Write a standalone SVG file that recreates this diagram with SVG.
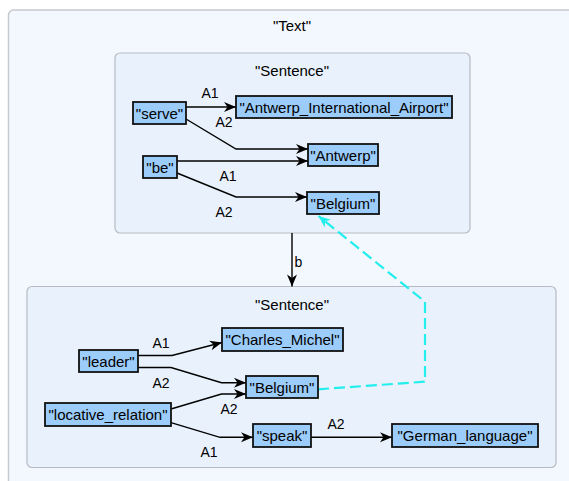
<svg xmlns="http://www.w3.org/2000/svg" width="569" height="481" viewBox="0 0 569 481">
  <style>
    text { font-family: "Liberation Sans", Arial, sans-serif; font-size: 15px; fill: #000; }
    .c { text-anchor: middle; }
    .lbl { font-size: 14px; }
    .outer { fill: #f3f8fe; stroke: #c6c9ce; stroke-width: 1.5; }
    .group { fill: #e9f2fc; stroke: #b7bcc4; stroke-width: 1.2; }
    .node rect { fill: #9cccfa; stroke: #111; stroke-width: 1.8; }
    .edge { fill: none; stroke: #000; stroke-width: 1.4; marker-end: url(#arrow); }
    .link { fill: none; stroke: #22eeee; stroke-width: 2.2; stroke-dasharray: 11 5; marker-end: url(#arrowCyan); }
  </style>
  <defs>
    <marker id="arrow" markerUnits="userSpaceOnUse" viewBox="-13 -6 14 12" markerWidth="14" markerHeight="12" refX="0" refY="0" orient="auto">
      <path d="M0,0 L-12,-5 L-8.5,0 L-12,5 Z" fill="#000"/>
    </marker>
    <marker id="arrowCyan" markerUnits="userSpaceOnUse" viewBox="-13 -6 14 12" markerWidth="14" markerHeight="12" refX="0" refY="0" orient="auto">
      <path d="M0,0 L-12,-5 L-8.5,0 L-12,5 Z" fill="#22eeee"/>
    </marker>
  </defs>

  <!-- document container -->
  <g id="text-group">
    <rect class="outer" x="8.5" y="10" width="600" height="520" rx="5"/>
    <text class="c" x="292" y="31">"Text"</text>
  </g>

  <!-- first sentence -->
  <g id="sentence-1">
    <rect class="group" x="115" y="53" width="355" height="180" rx="5"/>
    <text class="c" x="292" y="76">"Sentence"</text>
  </g>

  <!-- second sentence -->
  <g id="sentence-2">
    <rect class="group" x="27" y="286.5" width="529" height="181" rx="5"/>
    <text class="c" x="292" y="310">"Sentence"</text>
  </g>

  <g id="connectors">
    <!-- sentence 1 -->
    <path class="edge" d="M186,107 L236,107"/>
    <path class="edge" d="M186,119 L236,149 L308,149"/>
    <path class="edge" d="M177,161 L308,161"/>
    <path class="edge" d="M177,173 L236,197 L307,197"/>
    <text class="c lbl" x="210" y="98">A1</text>
    <text class="c lbl" x="224" y="127">A2</text>
    <text class="c lbl" x="228" y="181">A1</text>
    <text class="c lbl" x="224" y="217">A2</text>

    <!-- sentence order -->
    <path class="edge" d="M292,233 L292,286.5"/>
    <text class="lbl" x="294.5" y="267">b</text>

    <!-- sentence 2 -->
    <path class="edge" d="M138,355.5 L172,355.5 L222,342.5"/>
    <path class="edge" d="M138,367.5 L171,367.5 L221.5,382.7 L246,382.7"/>
    <path class="edge" d="M171,409 L221.5,394 L246,394"/>
    <path class="edge" d="M171,422.7 L220,437.3 L253,437.3"/>
    <path class="edge" d="M311,437.3 L392,437.3"/>
    <text class="c lbl" x="161" y="348">A1</text>
    <text class="c lbl" x="161" y="388">A2</text>
    <text class="c lbl" x="229" y="414">A2</text>
    <text class="c lbl" x="209" y="457">A1</text>
    <text class="c lbl" x="336" y="429">A2</text>

    <!-- coreference -->
    <path class="link" d="M318,389.3 L425,381.7 L425,301.7 L318.5,216"/>
  </g>

  <!-- nodes of sentence 1 -->
  <g id="serve" class="node">
    <rect x="133" y="102" width="53" height="22"/>
    <text class="c" x="159.5" y="118.5">"serve"</text>
  </g>
  <g id="antwerp-international-airport" class="node">
    <rect x="236" y="96" width="216" height="22"/>
    <text class="c" x="344" y="112.5">"Antwerp_International_Airport"</text>
  </g>
  <g id="antwerp" class="node">
    <rect x="308" y="144" width="70" height="22"/>
    <text class="c" x="343" y="160.5">"Antwerp"</text>
  </g>
  <g id="be" class="node">
    <rect x="143" y="156" width="34" height="22"/>
    <text class="c" x="160" y="172.5">"be"</text>
  </g>
  <g id="belgium-1" class="node">
    <rect x="307" y="192" width="72" height="22"/>
    <text class="c" x="343" y="208.5">"Belgium"</text>
  </g>

  <!-- nodes of sentence 2 -->
  <g id="charles-michel" class="node">
    <rect x="222" y="328" width="121" height="23"/>
    <text class="c" x="282.5" y="345">"Charles_Michel"</text>
  </g>
  <g id="leader" class="node">
    <rect x="79" y="350" width="59" height="22"/>
    <text class="c" x="108.5" y="366.5">"leader"</text>
  </g>
  <g id="belgium-2" class="node">
    <rect x="246" y="376" width="72" height="22"/>
    <text class="c" x="282" y="392.5">"Belgium"</text>
  </g>
  <g id="locative-relation" class="node">
    <rect x="45" y="403" width="126" height="23"/>
    <text class="c" x="108" y="420">"locative_relation"</text>
  </g>
  <g id="speak" class="node">
    <rect x="253" y="424" width="58" height="23"/>
    <text class="c" x="282" y="441">"speak"</text>
  </g>
  <g id="german-language" class="node">
    <rect x="392" y="424" width="146" height="23"/>
    <text class="c" x="465" y="441">"German_language"</text>
  </g>
</svg>
